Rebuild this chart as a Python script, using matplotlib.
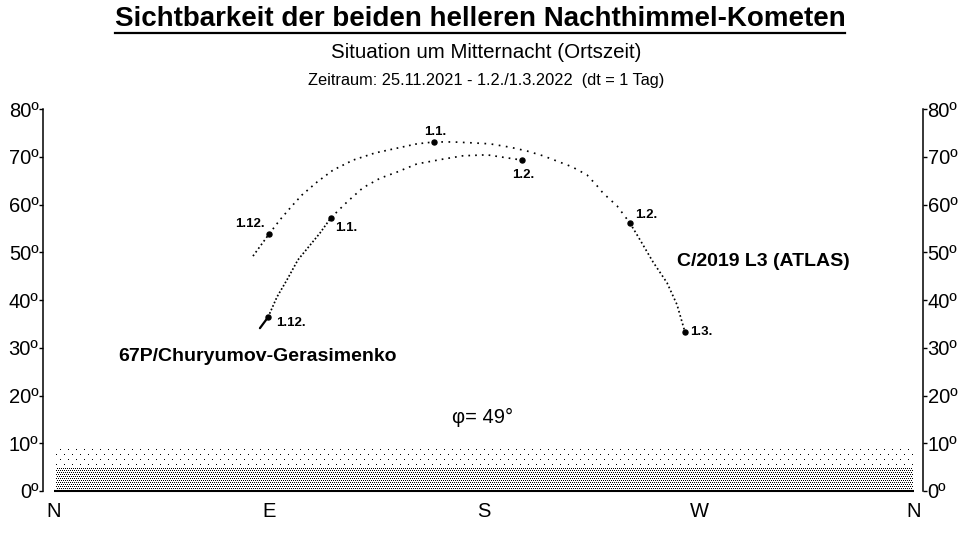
import numpy as np
import matplotlib
matplotlib.use("Agg")
import matplotlib.pyplot as plt
from matplotlib.lines import Line2D
from matplotlib.transforms import IdentityTransform
from datetime import date

plt.rcParams['font.family'] = ['Liberation Sans', 'DejaVu Sans']
plt.rcParams['lines.scale_dashes'] = False

# ---------------- data ----------------
y_ticks = [0, 10, 20, 30, 40, 50, 60, 70, 80]
y_tick_labels = [f"{v}º" for v in y_ticks]
x_ticks = [0, 90, 180, 270, 360]
x_tick_labels = ["N", "E", "S", "W", "N"]

# C/2019 L3 (ATLAS): azimuth (deg from N over E) / altitude (deg)
atlas_az = [83.3, 90.0, 94.6, 99.6, 103.8, 110.1, 116.8, 125.2, 134.4, 143.6,
            151.9, 159.1, 167.0, 175.4, 182.5, 190.9, 198.0, 204.7, 210.5, 216.8,
            223.1, 227.7, 229.8, 235.7, 241.1, 245.3, 250.7, 256.6, 260.8, 264.1]
atlas_alt = [49.2, 53.8, 56.8, 59.7, 62.0, 64.7, 67.2, 69.3, 70.8, 71.8,
             72.7, 73.1, 73.1, 72.9, 72.7, 72.0, 71.2, 70.2, 69.1, 67.9,
             66.2, 63.7, 62.4, 59.7, 56.1, 52.6, 48.0, 43.6, 39.0, 33.3]
atlas_key_idx = [0, 1, 11, 24, 29]
atlas_key_dates = [date(2021, 11, 25), date(2021, 12, 1), date(2022, 1, 1),
                   date(2022, 2, 1), date(2022, 3, 1)]
atlas_key_labels = ["", "1.12.", "1.1.", "1.2.", "1.3."]

# 67P/Churyumov-Gerasimenko
p67_az = [86.2, 89.6, 93.3, 97.5, 102.1, 107.2, 111.3, 115.9, 122.6, 129.3,
          136.5, 143.6, 151.9, 162.8, 171.2, 181.2, 187.9, 195.9]
p67_alt = [34.1, 36.4, 40.6, 44.2, 48.4, 51.5, 54.0, 57.2, 60.5, 63.5,
           65.5, 66.8, 68.5, 69.5, 70.2, 70.4, 69.9, 69.3]
p67_key_idx = [0, 1, 7, 17]
p67_key_dates = [date(2021, 11, 25), date(2021, 12, 1), date(2022, 1, 1),
                 date(2022, 2, 1)]
p67_key_labels = ["", "1.12.", "1.1.", "1.2."]

# horizon zones (altitude, deg)
dense_zone = (0.3, 5.0)
sparse_zone = (5.0, 9.5)

# ---------------- figure ----------------
W, H = 970, 534
fig = plt.figure(figsize=(W / 100, H / 100), dpi=100)
ax_left, ax_right, ax_bottom, ax_top = 43, 923, 491, 109
ax = fig.add_axes([ax_left / W, (H - ax_bottom) / H,
                   (ax_right - ax_left) / W, (ax_bottom - ax_top) / H])
ax.set_xlim(-4.6, 363.75)
ax.set_ylim(0, 80)

for s in ["top", "bottom"]:
    ax.spines[s].set_visible(False)
for s in ["left", "right"]:
    ax.spines[s].set_linewidth(1.1)

ax.set_yticks(y_ticks)
ax.set_yticklabels(y_tick_labels)
ax.tick_params(axis="y", which="both", left=True, right=True, labelleft=True,
               labelright=True, direction="out", length=3, width=1, pad=0.3,
               labelsize=14.5)
ax.set_xticks(x_ticks)
ax.set_xticklabels(x_tick_labels)
ax.tick_params(axis="x", length=0, pad=8, labelsize=14.5)

# ground line
ax.plot([x_ticks[0], x_ticks[-1]], [0, 0], color="black", lw=1.5,
        solid_capstyle="butt", clip_on=False)

# horizon shading: dot textures drawn as single device pixels
def to_px(x, y):
    return ax.transData.transform((x, y))

xa, ya0 = to_px(0.5, dense_zone[0])
xb, ya1 = to_px(359.0, dense_zone[1])
_, yb1 = to_px(359.0, sparse_zone[1])
xa, xb = int(round(xa)), int(round(xb))
ya0, ya1, yb1 = int(round(ya0)), int(round(ya1)), int(round(yb1))

px, py = [], []
for r, yrow in enumerate(range(ya0, ya1, 2)):
    xs = np.arange(xa + (r % 2), xb, 2)
    px.append(xs); py.append(np.full(xs.size, yrow))
for r, yrow in enumerate(range(ya1 + 3, yb1 + 1, 5)):
    xs = np.arange(xa + 4 * (r % 2), xb, 8)
    px.append(xs); py.append(np.full(xs.size, yrow))
px = np.concatenate(px) + 0.5
py = np.concatenate(py) + 0.5
dots = Line2D(px, py, linestyle="none", marker="s", markersize=0.72,
              markeredgewidth=0, markerfacecolor="black",
              transform=IdentityTransform(), antialiased=False)
fig.add_artist(dots)

# tracks
DOT_PX = 1.7

def draw_track(az, alt, key_idx, key_dates, key_labels, offsets):
    az = np.asarray(az); alt = np.asarray(alt)
    pts = ax.transData.transform(np.column_stack([az, alt]))
    for k in range(len(key_idx) - 1):
        i0, i1 = key_idx[k], key_idx[k + 1]
        seg = pts[i0:i1 + 1]
        L = np.sum(np.hypot(*np.diff(seg, axis=0).T))
        days = (key_dates[k + 1] - key_dates[k]).days
        step = L / days
        if step < 3.0:
            ax.plot(az[i0:i1 + 1], alt[i0:i1 + 1], color="black", lw=1.6,
                    solid_capstyle="round")
        else:
            on = DOT_PX
            off = step - on
            ax.plot(az[i0:i1 + 1], alt[i0:i1 + 1], color="black",
                    lw=DOT_PX * 0.72,
                    linestyle=(0, (on * 0.72, off * 0.72)))
    idx = key_idx[1:]
    ax.plot(az[idx], alt[idx], "o", color="black", ms=3.6, zorder=5)
    for i, lab, (dx, dy) in zip(idx, key_labels[1:], offsets):
        ax.annotate(lab, (az[i], alt[i]), xytext=(dx * 0.72, dy * 0.72),
                    textcoords="offset points", ha="center", va="center",
                    fontsize=9.5, fontweight="bold")

draw_track(atlas_az, atlas_alt, atlas_key_idx, atlas_key_dates, atlas_key_labels,
           [(-19, 10), (1, 10), (16, 8), (16, 0)])
draw_track(p67_az, p67_alt, p67_key_idx, p67_key_dates, p67_key_labels,
           [(23, -6), (15, -10), (1, -15)])

# comet names and latitude
ax.text(26.8, 28.1, "67P/Churyumov-Gerasimenko", fontsize=14, fontweight="bold",
        ha="left", va="center")
ax.text(260.8, 48.0, "C/2019 L3 (ATLAS)", fontsize=14, fontweight="bold",
        ha="left", va="center")
ax.text(166.6, 15.5, "φ= 49°", fontsize=14.5, ha="left", va="center")

# titles
t = fig.text(480 / W, 1 - 19 / H, "Sichtbarkeit der beiden helleren Nachthimmel-Kometen",
             ha="center", va="center", fontsize=20, fontweight="bold")
fig.text(486 / W, 1 - 52 / H, "Situation um Mitternacht (Ortszeit)",
         ha="center", va="center", fontsize=14.8)
fig.text(486 / W, 1 - 81 / H, "Zeitraum: 25.11.2021 - 1.2./1.3.2022  (dt = 1 Tag)",
         ha="center", va="center", fontsize=11.8)

fig.canvas.draw()
bb = t.get_window_extent()
uy = (H - 33) / H
fig.add_artist(Line2D([bb.x0 / W, bb.x1 / W], [uy, uy], color="black", lw=1.6,
                      transform=fig.transFigure))

fig.savefig("out.png", dpi=100, facecolor="white")
